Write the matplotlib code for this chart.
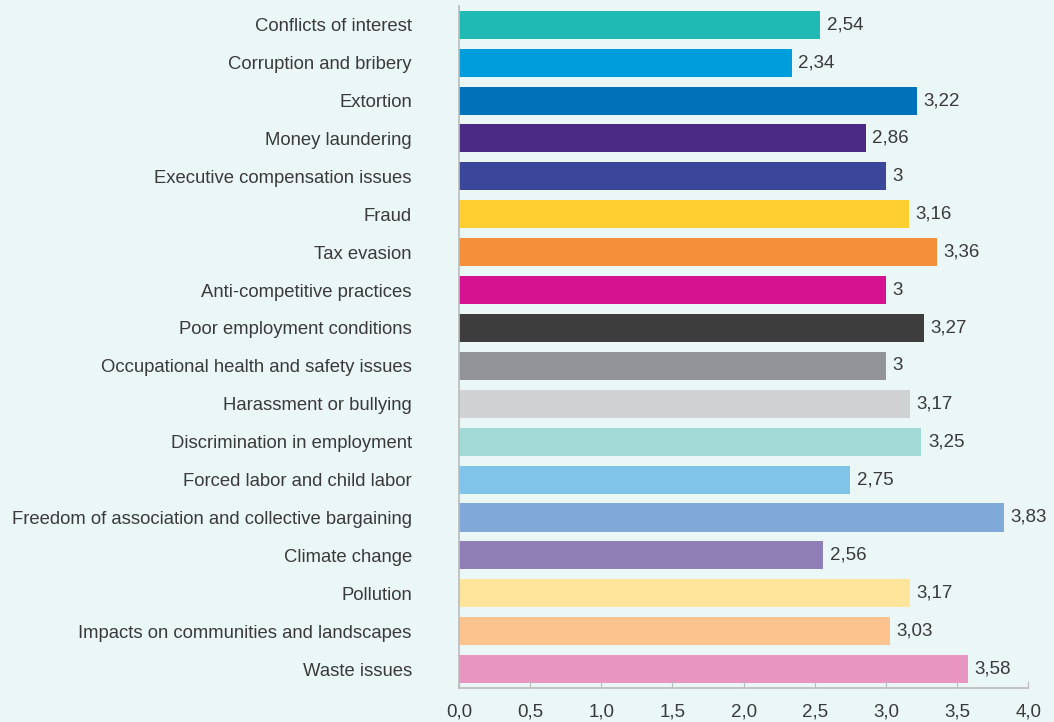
import numpy as np
import matplotlib
matplotlib.use("Agg")
import matplotlib.pyplot as plt

categorias = [
    "Conflicts of interest",
    "Corruption and bribery",
    "Extortion",
    "Money laundering",
    "Executive compensation issues",
    "Fraud",
    "Tax evasion",
    "Anti-competitive practices",
    "Poor employment conditions",
    "Occupational health and safety issues",
    "Harassment or bullying",
    "Discrimination in employment",
    "Forced labor and child labor",
    "Freedom of association and collective bargaining",
    "Climate change",
    "Pollution",
    "Impacts on communities and landscapes",
    "Waste issues",
]
valores = [2.54, 2.34, 3.22, 2.86, 3.0, 3.16, 3.36, 3.0, 3.27, 3.0,
           3.17, 3.25, 2.75, 3.83, 2.56, 3.17, 3.03, 3.58]
cores = ["#1FBAB4", "#009DDC", "#0072BA", "#4A2A84", "#3A479B", "#FFCF31",
         "#F5903A", "#D4118F", "#3D3D3D", "#929497", "#D0D1D3", "#A2DAD6",
         "#80C4EA", "#80A9DA", "#8F7FB6", "#FFE49C", "#FDC38F", "#E895C0"]
ticks_x = [0, 0.5, 1.0, 1.5, 2.0, 2.5, 3.0, 3.5, 4.0]

fundo = "#EBF6F6"
texto = "#3A3A3A"
cinza = "#BBBBBB"

plt.rcParams['font.family'] = ['Liberation Sans', 'DejaVu Sans']

fig = plt.figure(figsize=(10.54, 7.22), dpi=100, facecolor=fundo)
ax = fig.add_axes([0.4355, 0.047, 0.5400, 0.945])
ax.set_facecolor(fundo)

y = np.arange(len(categorias))
ax.barh(y, valores, height=0.74, color=cores)

def formata(v):
    s = ("%.2f" % v).rstrip("0").rstrip(".")
    return s.replace(".", ",")

for yi, v in zip(y, valores):
    ax.text(v + 0.045, yi, formata(v), va="center", ha="left",
            fontsize=13.5, color=texto)

ax.set_ylim(len(categorias) - 0.5, -0.5)
ax.set_xlim(0, 4.0)
ax.set_yticks(y)
ax.set_yticklabels(categorias, fontsize=13.3, color=texto)
ax.tick_params(axis="y", length=0, pad=34)
ax.set_xticks(ticks_x)
ax.set_xticklabels([("%.1f" % t).replace(".", ",") for t in ticks_x],
                   fontsize=13.5, color=texto)
ax.tick_params(axis="x", direction="in", length=5, color=cinza, pad=11)

for lado in ["top", "right"]:
    ax.spines[lado].set_visible(False)
ax.spines["left"].set_color(cinza)
ax.spines["bottom"].set_color(cinza)
ax.spines["left"].set_linewidth(1.2)
ax.spines["bottom"].set_linewidth(1.2)

fig.savefig("out.png", dpi=100, facecolor=fundo)
